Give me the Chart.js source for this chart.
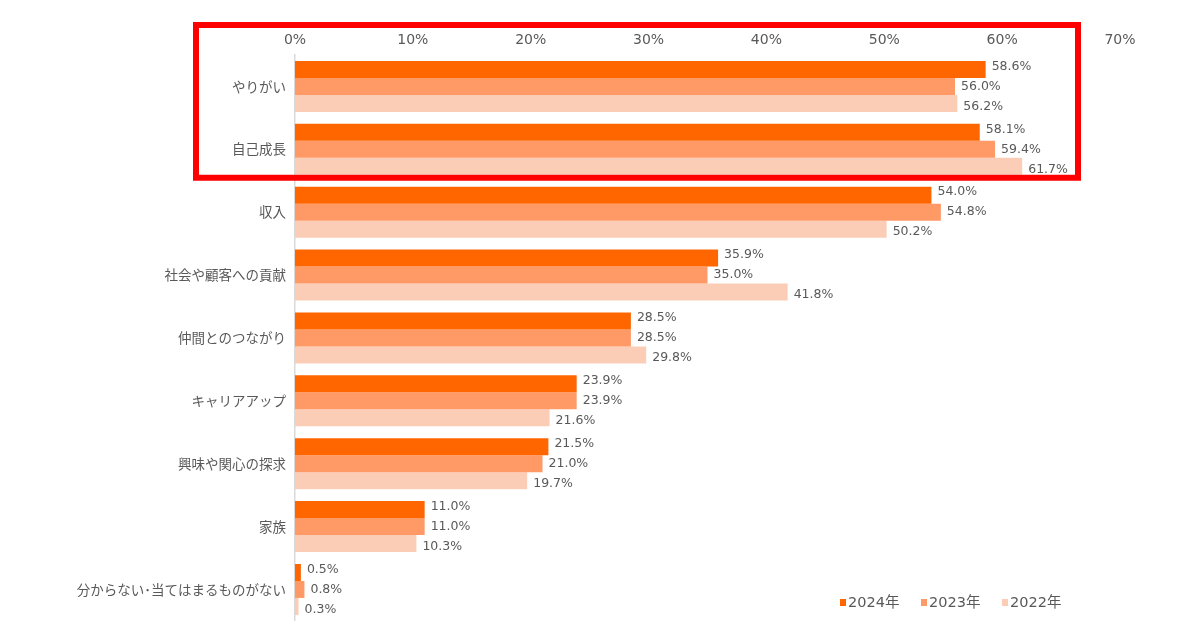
<!DOCTYPE html>
<html lang="ja">
<head>
    <meta charset="UTF-8">
    <script src="https://cdn.jsdelivr.net/npm/chart.js"></script>
    <title>働く理由</title>
    <style>
        html, body {
            margin: 0;
            padding: 0;
            background: #ffffff;
        }

        #wrap {
            position: relative;
            width: 1200px;
            height: 630px;
        }

        #legend {
            position: absolute;
            left: 840px;
            top: 590px;
            font-family: "DejaVu Sans", "Noto Sans CJK JP", sans-serif;
            font-size: 14.5px;
            color: #595959;
            white-space: nowrap;
        }

        #legend span {
            display: inline-block;
            width: 81px;
        }

        #legend i {
            display: inline-block;
            width: 6px;
            height: 7px;
            margin-right: 2px;
            vertical-align: 1px;
        }
    </style>
</head>
<body>
    <div id="wrap">
        <canvas id="chart" width="1200" height="630"></canvas>
        <div id="legend"></div>
    </div>
</body>
<script>
    const categories = ['やりがい', '自己成長', '収入', '社会や顧客への貢献', '仲間とのつながり', 'キャリアアップ', '興味や関心の探求', '家族', '分からない･当てはまるものがない'];
    const seriesNames = ['2024年', '2023年', '2022年'];
    const values2024 = [58.6, 58.1, 54.0, 35.9, 28.5, 23.9, 21.5, 11.0, 0.5];
    const values2023 = [56.0, 59.4, 54.8, 35.0, 28.5, 23.9, 21.0, 11.0, 0.8];
    const values2022 = [56.2, 61.7, 50.2, 41.8, 29.8, 21.6, 19.7, 10.3, 0.3];
    const xTicks = [0, 10, 20, 30, 40, 50, 60, 70];

    const colors = ['#FF6600', '#FF9966', '#FBCDB6'];
    const labelShift = [-3, 0, 3]; // small vertical nudge per series, like the original labels
    const numFont = '"DejaVu Sans", "Noto Sans CJK JP", sans-serif';
    const jpFont = '"Noto Sans CJK JP", "DejaVu Sans", sans-serif';
    const textColor = '#595959';

    // value labels at the end of each bar
    const barLabels = {
        id: 'barLabels',
        afterDatasetsDraw(chart) {
            const ctx = chart.ctx;
            ctx.save();
            ctx.font = '12.5px ' + numFont;
            ctx.fillStyle = textColor;
            ctx.textAlign = 'left';
            ctx.textBaseline = 'middle';
            chart.data.datasets.forEach((ds, i) => {
                chart.getDatasetMeta(i).data.forEach((bar, j) => {
                    ctx.fillText(ds.data[j].toFixed(1) + '%', bar.x + 6, bar.y + labelShift[i]);
                });
            });
            ctx.restore();
        }
    };

    // red highlight frame around the first two items
    const highlightBox = {
        id: 'highlightBox',
        afterDraw(chart) {
            const y = chart.scales.y;
            const ctx = chart.ctx;
            const bottom = y.getPixelForValue(1.5) - 3;
            ctx.save();
            ctx.strokeStyle = '#FF0000';
            ctx.lineWidth = 6;
            ctx.strokeRect(196, 25, 882, bottom - 25);
            ctx.restore();
        }
    };

    new Chart(document.getElementById('chart'), {
        type: 'bar',
        data: {
            labels: categories,
            datasets: [
                {label: seriesNames[0], data: values2024, backgroundColor: colors[0]},
                {label: seriesNames[1], data: values2023, backgroundColor: colors[1]},
                {label: seriesNames[2], data: values2022, backgroundColor: colors[2]}
            ]
        },
        options: {
            indexAxis: 'y',
            responsive: false,
            animation: false,
            layout: {padding: {top: 0, right: 80, bottom: 9, left: 0}},
            datasets: {bar: {categoryPercentage: 0.81, barPercentage: 1.0}},
            plugins: {
                legend: {display: false},
                tooltip: {enabled: false}
            },
            scales: {
                x: {
                    position: 'top',
                    min: 0,
                    max: 70,
                    afterBuildTicks: axis => { axis.ticks = xTicks.map(v => ({value: v})); },
                    afterFit: axis => { axis.height = 55; },
                    grid: {display: false},
                    border: {display: false},
                    ticks: {
                        padding: -2,
                        color: textColor,
                        font: {family: numFont, size: 14},
                        callback: v => v + '%'
                    }
                },
                y: {
                    afterFit: axis => { axis.width = 295; },
                    grid: {display: false},
                    border: {display: true, color: '#D9D9D9', width: 1.5},
                    ticks: {
                        padding: 1,
                        color: textColor,
                        font: {family: jpFont, size: 13.5}
                    }
                }
            }
        },
        plugins: [barLabels, highlightBox]
    });

    document.getElementById('legend').innerHTML = seriesNames
        .map((name, i) => `<span><i style="background:${colors[i]}"></i>${name}</span>`)
        .join('');
</script>
</html>
